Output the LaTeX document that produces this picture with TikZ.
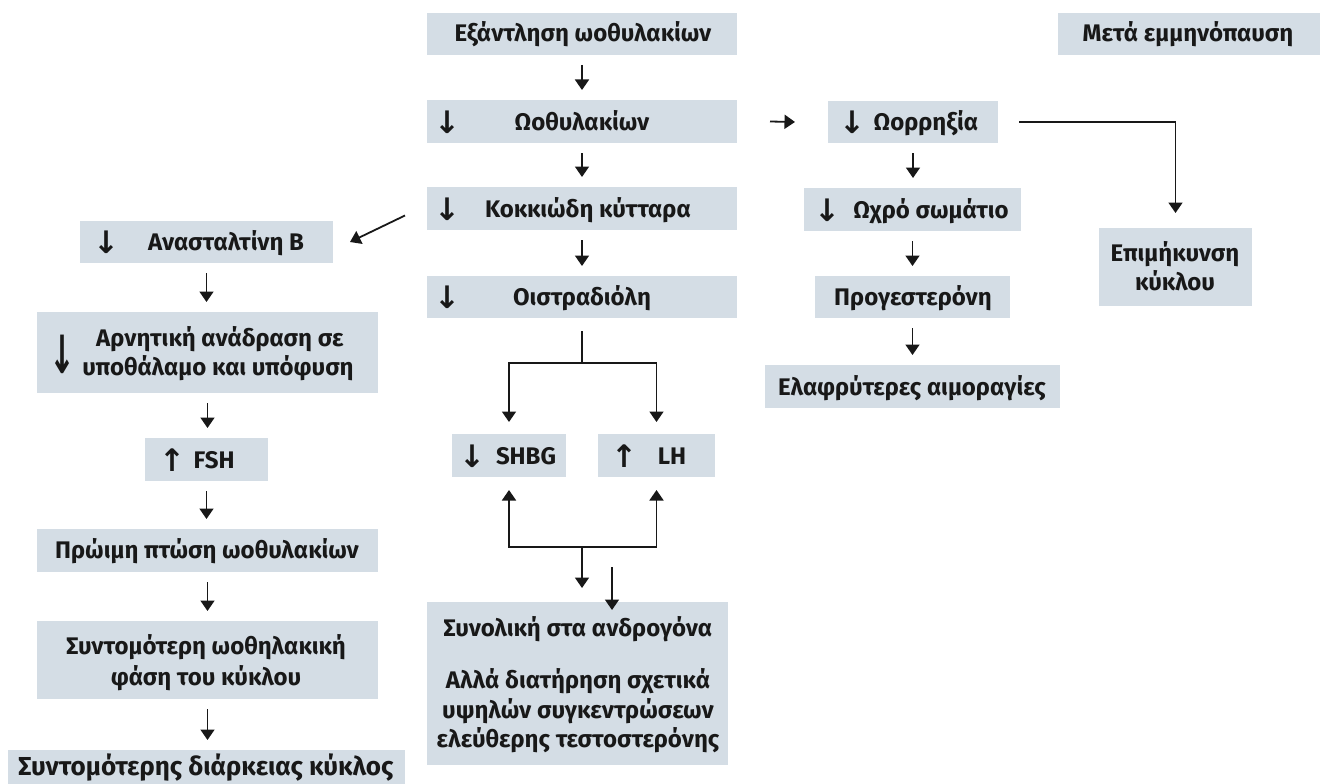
\documentclass[tikz,border=0pt]{standalone}
\usepackage{fontspec}
\setmainfont{Fira Sans}
\newfontfamily\arrfont{DejaVu Sans}
\usetikzlibrary{arrows.meta,calc}
\definecolor{boxfill}{RGB}{212,221,229}
\definecolor{ink}{RGB}{24,24,24}
\begin{document}
\begin{tikzpicture}[x=1pt,y=-1pt,
  box/.style={fill=boxfill,inner sep=0pt,outer sep=0pt},
  txt/.style={font=\bfseries\fontsize{24}{29}\selectfont,inner sep=0pt,text=ink,anchor=base},
  big/.style={font=\bfseries\fontsize{26}{30}\selectfont,inner sep=0pt,text=ink,anchor=base},
  glyph/.style={font=\arrfont\bfseries\fontsize{31}{34}\selectfont,inner sep=0pt,text=ink},
  arr/.style={-{Triangle[width=14pt,length=10.5pt]},line width=1.8pt,draw=ink},
  plain/.style={line width=1.8pt,draw=ink},
  gap/.style={arr,shorten <=10pt,shorten >=10pt}]
\useasboundingbox (0,0) rectangle (1320,784);

% ---- middle column
\node[box,minimum width=310pt,minimum height=42pt] (b1) at (582,34) {};
\node[box,minimum width=310pt,minimum height=43pt] (b2) at (582,121.5) {};
\node[box,minimum width=310pt,minimum height=43pt] (b3) at (582,208.5) {};
\node[box,minimum width=310pt,minimum height=42pt] (b4) at (582,297) {};
\node[txt] (t1) at (583,42) {Εξάντληση ωοθυλακίων};
\node[txt] (t2) at (582,130) {Ωοθυλακίων};
\node[glyph] (g2) at (447,122) {↓};
\node[txt] (t3) at (588,217) {Κοκκιώδη κύτταρα};
\node[glyph] (g3) at (447,209) {↓};
\node[txt] (t4) at (582,305) {Οιστραδιόλη};
\node[glyph] (g4) at (447,297) {↓};

% ---- SHBG / LH
\node[box,minimum width=114pt,minimum height=43pt] (sh) at (509,455.5) {};
\node[box,minimum width=117pt,minimum height=43pt] (lh) at (656.5,455.5) {};
\node[txt] (tsh) at (526,464) {SHBG};
\node[glyph] (gsh) at (472,456) {↓};
\node[txt] (tlh) at (672,464) {LH};
\node[glyph] (glh) at (624,456) {↑};

% ---- total androgens
\node[box,minimum width=301pt,minimum height=163pt] (tot) at (577.5,683.5) {};
\node[txt] (tt1) at (578,636) {Συνολική στα ανδρογόνα};
\node[txt] (tt2) at (578,688) {Αλλά διατήρηση σχετικά};
\node[txt] (tt3) at (578,718) {υψηλών συγκεντρώσεων};
\node[txt] (tt4) at (578,747) {ελεύθερης τεστοστερόνης};

% ---- right column
\node[box,minimum width=170pt,minimum height=42pt] (r1) at (913,122) {};
\node[box,minimum width=217pt,minimum height=43pt] (r2) at (912.5,209.5) {};
\node[box,minimum width=195pt,minimum height=42pt] (r3) at (912.5,297) {};
\node[box,minimum width=295pt,minimum height=43pt] (r4) at (912.5,386.5) {};
\node[txt] (tr1) at (926,130) {Ωορρηξία};
\node[glyph] (gr1) at (852,122) {↓};
\node[txt] (tr2) at (931,218) {Ωχρό σωμάτιο};
\node[glyph] (gr2) at (827,210) {↓};
\node[txt] (tr3) at (913,305) {Προγεστερόνη};
\node[txt] (tr4) at (912,395) {Ελαφρύτερες αιμοραγίες};

\node[box,minimum width=153pt,minimum height=78pt] (ep) at (1175.5,267) {};
\node[txt] (te1) at (1175,261) {Επιμήκυνση};
\node[txt] (te2) at (1175,290) {κύκλου};

\node[box,minimum width=262pt,minimum height=42pt] (mp) at (1189,34) {};
\node[txt] (tmp) at (1188,42) {Μετά εμμηνόπαυση};

% ---- left column
\node[box,minimum width=253pt,minimum height=42pt] (l1) at (206.5,242) {};
\node[box,minimum width=341pt,minimum height=81pt] (l2) at (207.5,352.5) {};
\node[box,minimum width=123pt,minimum height=43pt] (l3) at (206.5,459.5) {};
\node[box,minimum width=341pt,minimum height=43pt] (l4) at (207.5,550.5) {};
\node[box,minimum width=341pt,minimum height=78pt] (l5) at (207.5,660) {};
\node[box,minimum width=397pt,minimum height=44pt] (l6) at (206.5,772) {};
\node[txt] (tl1) at (226,250) {Ανασταλτίνη Β};
\node[glyph] (gl1) at (106,242) {↓};
\node[txt] (tl2a) at (220,346) {Αρνητική ανάδραση σε};
\node[txt] (tl2b) at (218,375) {υποθάλαμο και υπόφυση};
\node[glyph] (gl2) at (62,354) {\scalebox{1}[1.7]{↓}};
\node[txt] (tl3) at (214,468) {FSH};
\node[glyph] (gl3) at (172,460) {↑};
\node[txt] (tl4) at (207,558) {Πρώιμη πτώση ωοθυλακίων};
\node[txt] (tl5a) at (206,654) {Συντομότερη ωοθηλακική};
\node[txt] (tl5b) at (206,685) {φάση του κύκλου};
\node[big] (tl6) at (206,775) {Συντομότερης διάρκειας κύκλος};

% ---- connectors
\draw[gap] (b1.south) -- (b1.south |- b2.north);
\draw[gap] (b2.south) -- (b2.south |- b3.north);
\draw[gap] (b3.south) -- (b3.south |- b4.north);
\draw[gap] (r1.south) -- (r1.south |- r2.north);
\draw[gap] (r2.south) -- (r2.south |- r3.north);
\draw[gap] (r3.south) -- (r3.south |- r4.north);
\draw[gap] (l1.south) -- (l1.south |- l2.north);
\draw[gap] (l2.south) -- (l2.south |- l3.north);
\draw[gap] (l3.south) -- (l3.south |- l4.north);
\draw[gap] (l4.south) -- (l4.south |- l5.north);
\draw[gap] (l5.south) -- (l5.south |- l6.north);

\draw[arr] ([shift={(33,0)}]b2.east) -- ([shift={(-33,0)}]r1.west);
\draw[arr] ([shift={(-22,7)}]b3.west) -- ([shift={(17,0)}]l1.east);
\draw[arr] ([shift={(21,0)}]r1.east) -| ([shift={(0,-15)}]ep.north);

\coordinate (sp) at (582,363);
\draw[plain] ([shift={(0,13)}]b4.south) -- (sp);
\draw[arr] (sp) -| ([shift={(0,-12)}]sh.north);
\draw[arr] (sp) -| ([shift={(0,-12)}]lh.north);

\coordinate (jn) at (582,547);
\draw[arr] (jn) -| ([shift={(0,13)}]sh.south);
\draw[arr] (jn) -| ([shift={(0,13)}]lh.south);
\draw[arr] (jn) -- ([shift={(4.5,-14)}]tot.north);
\coordinate (jn2) at (612,567);
\draw[arr] (jn2) -- ++(0,43);
\end{tikzpicture}
\end{document}
